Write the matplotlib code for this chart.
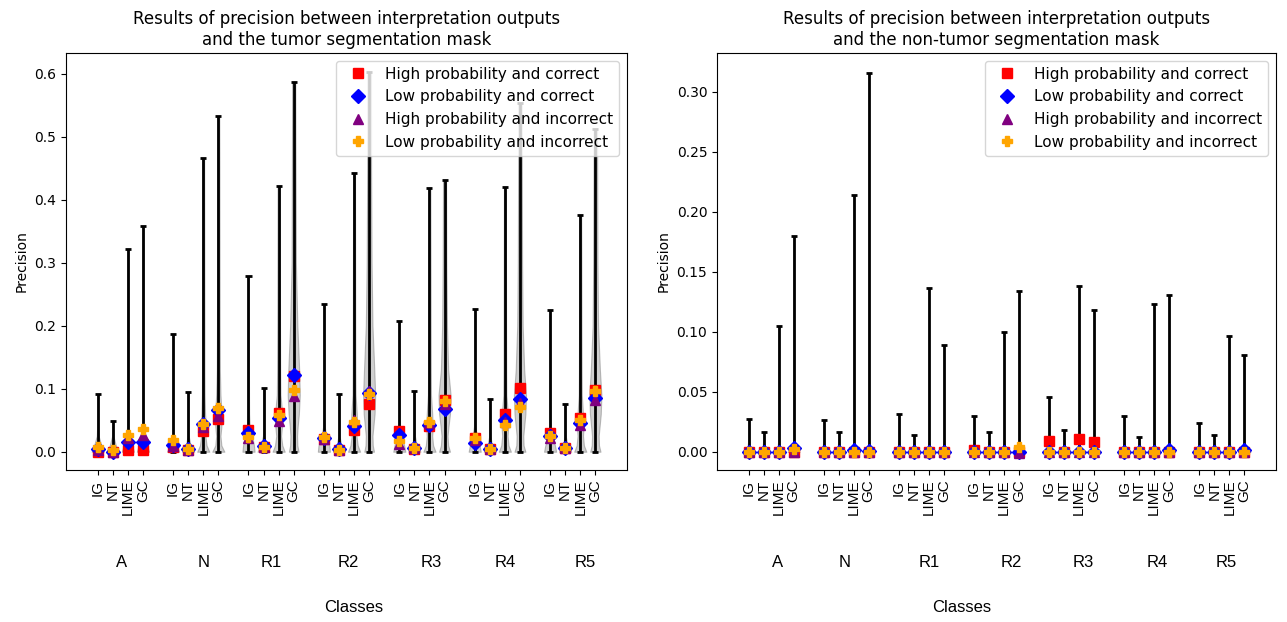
import numpy as np
import matplotlib.pyplot as plt
from matplotlib.transforms import blended_transform_factory

classes = ['A', 'N', 'R1', 'R2', 'R3', 'R4', 'R5']
methods = ['IG', 'NT', 'LIME', 'GC']
series_names = ['High probability and correct', 'Low probability and correct',
                'High probability and incorrect', 'Low probability and incorrect']

# tumor mask, order: class by class, IG / NT / LIME / GC
tumor_max = [0.091, 0.048, 0.322, 0.358,
             0.187, 0.095, 0.466, 0.533,
             0.279, 0.101, 0.4215, 0.587,
             0.234, 0.091, 0.443, 0.6025,
             0.207, 0.096, 0.419, 0.431,
             0.227, 0.084, 0.4205, 0.553,
             0.225, 0.075, 0.376, 0.513]
tumor_hpc = [0.0, 0.0, 0.003, 0.003,
             0.007, 0.003, 0.033, 0.052,
             0.034, 0.008, 0.062, 0.12,
             0.0195, 0.002, 0.034, 0.076,
             0.033, 0.004, 0.041, 0.082,
             0.022, 0.005, 0.06, 0.101,
             0.03, 0.006, 0.054, 0.098]
tumor_lpc = [0.004, 0.0, 0.016, 0.016,
             0.010, 0.004, 0.044, 0.066,
             0.029, 0.009, 0.053, 0.122,
             0.022, 0.004, 0.041, 0.093,
             0.026, 0.006, 0.043, 0.068,
             0.014, 0.005, 0.05, 0.083,
             0.025, 0.006, 0.046, 0.085]
tumor_hpi = [0.002, 0.0, 0.022, 0.027,
             0.009, 0.003, 0.04, 0.056,
             0.021, 0.007, 0.049, 0.088,
             0.0195, 0.003, 0.051, 0.096,
             0.013, 0.006, 0.046, 0.075,
             0.018, 0.005, 0.047, 0.078,
             0.022, 0.006, 0.042, 0.082]
tumor_lpi = [0.007, 0.002, 0.027, 0.036,
             0.018, 0.004, 0.044, 0.069,
             0.024, 0.007, 0.058, 0.098,
             0.023, 0.003, 0.047, 0.092,
             0.017, 0.006, 0.047, 0.08,
             0.021, 0.005, 0.042, 0.071,
             0.025, 0.006, 0.051, 0.096]

# relative violin widths read at these precision levels
tumor_levels = [0, 0.01, 0.025, 0.04, 0.06, 0.09, 0.13, 0.2, 0.3, 0.45, 0.6]
tumor_density = [
    [1.0, 0.6, 0.15, 0.08, 0.06, 0.05, 0.05, 0.05, 0.05, 0.05, 0.05],
    [1.0, 0.5, 0.1, 0.06, 0.05, 0.05, 0.05, 0.05, 0.05, 0.05, 0.05],
    [1.0, 0.7, 0.25, 0.12, 0.1, 0.1, 0.1, 0.1, 0.1, 0.08, 0.08],
    [1.0, 0.7, 0.3, 0.15, 0.12, 0.12, 0.1, 0.1, 0.1, 0.08, 0.08],
    [1.0, 0.5, 0.12, 0.06, 0.05, 0.05, 0.05, 0.05, 0.05, 0.05, 0.05],
    [1.0, 0.4, 0.08, 0.05, 0.05, 0.05, 0.05, 0.05, 0.05, 0.05, 0.05],
    [1.0, 0.55, 0.35, 0.45, 0.3, 0.22, 0.2, 0.2, 0.18, 0.15, 0.15],
    [1.0, 0.5, 0.35, 0.5, 0.55, 0.35, 0.25, 0.22, 0.2, 0.18, 0.15],
    [1.0, 0.9, 0.6, 0.2, 0.1, 0.08, 0.07, 0.07, 0.06, 0.06, 0.06],
    [1.0, 0.5, 0.1, 0.05, 0.05, 0.05, 0.05, 0.05, 0.05, 0.05, 0.05],
    [1.0, 0.6, 0.4, 0.55, 0.6, 0.3, 0.25, 0.22, 0.2, 0.18, 0.15],
    [0.8, 0.6, 0.55, 0.65, 0.85, 1.0, 0.9, 0.6, 0.35, 0.3, 0.25],
    [1.0, 0.9, 0.4, 0.12, 0.08, 0.07, 0.06, 0.06, 0.06, 0.06, 0.06],
    [1.0, 0.4, 0.08, 0.05, 0.05, 0.05, 0.05, 0.05, 0.05, 0.05, 0.05],
    [1.0, 0.6, 0.4, 0.5, 0.45, 0.25, 0.22, 0.2, 0.18, 0.15, 0.15],
    [0.8, 0.6, 0.55, 0.7, 0.9, 1.0, 0.85, 0.55, 0.4, 0.32, 0.3],
    [1.0, 0.8, 0.35, 0.12, 0.08, 0.07, 0.06, 0.06, 0.06, 0.06, 0.06],
    [1.0, 0.4, 0.08, 0.05, 0.05, 0.05, 0.05, 0.05, 0.05, 0.05, 0.05],
    [1.0, 0.6, 0.45, 0.55, 0.45, 0.25, 0.22, 0.2, 0.18, 0.15, 0.15],
    [0.9, 0.6, 0.5, 0.65, 0.9, 1.0, 0.6, 0.4, 0.3, 0.25, 0.25],
    [1.0, 0.8, 0.35, 0.12, 0.08, 0.07, 0.06, 0.06, 0.06, 0.06, 0.06],
    [1.0, 0.4, 0.08, 0.05, 0.05, 0.05, 0.05, 0.05, 0.05, 0.05, 0.05],
    [1.0, 0.6, 0.45, 0.55, 0.5, 0.25, 0.22, 0.2, 0.18, 0.15, 0.15],
    [0.9, 0.6, 0.55, 0.7, 0.9, 1.0, 0.7, 0.45, 0.35, 0.3, 0.28],
    [1.0, 0.8, 0.35, 0.12, 0.08, 0.07, 0.06, 0.06, 0.06, 0.06, 0.06],
    [1.0, 0.4, 0.08, 0.05, 0.05, 0.05, 0.05, 0.05, 0.05, 0.05, 0.05],
    [1.0, 0.6, 0.45, 0.55, 0.45, 0.25, 0.22, 0.2, 0.18, 0.15, 0.15],
    [0.85, 0.6, 0.55, 0.7, 0.9, 1.0, 0.75, 0.45, 0.35, 0.3, 0.28],
]

# non-tumor mask
nontumor_max = [0.0276, 0.0163, 0.1048, 0.1798,
                0.0268, 0.0163, 0.2143, 0.3156,
                0.0315, 0.0144, 0.1366, 0.0888,
                0.0296, 0.0163, 0.1001, 0.1341,
                0.0456, 0.0185, 0.1386, 0.118,
                0.0304, 0.0124, 0.1236, 0.1311,
                0.024, 0.0144, 0.097, 0.0805]
nontumor_hpc = [0, 0, 0, 0,
                0, 0, 0, 0,
                0, 0, 0, 0,
                0.002, 0, 0, 0,
                0.0089, 0, 0.0108, 0.008,
                0, 0, 0, 0,
                0, 0, 0, 0]
nontumor_lpc = [0, 0, 0, 0.0033,
                0, 0, 0.002, 0.001,
                0, 0, 0, 0,
                0, 0, 0, 0,
                0, 0, 0, 0,
                0, 0, 0, 0.002,
                0, 0, 0, 0.002]
nontumor_hpi = [0, 0, 0, 0,
                0, 0, 0, 0,
                0, 0, 0, 0,
                0, 0, 0, -0.0005,
                0, 0, 0, 0,
                0, 0, 0, 0,
                0, 0, 0, 0]
nontumor_lpi = [0, 0, 0, 0.0025,
                0, 0, 0, 0,
                0, 0, 0, 0,
                0, 0, 0, 0.004,
                0, 0, 0, 0,
                0, 0, 0, 0,
                0, 0, 0, 0]
nontumor_levels = [0, 0.004, 0.01, 0.03, 0.1, 0.32]
nontumor_density = [1.0, 0.2, 0.02, 0.01, 0.01, 0.01]

# layout
positions = [g * 5 + m for g in range(len(classes)) for m in range(len(methods))]
tumor_label_off = [1.55, 2.0, 1.5, 1.6, 2.1, 2.0, 2.3]
nontumor_label_off = [1.9, 1.4, 2.0, 2.5, 2.3, 2.2, 1.8]
styles = [('s', 'red'), ('D', 'blue'), ('^', 'purple'), ('P', 'orange')]
ARIAL = 'Liberation Sans'


def make_stats(maxima, profiles, levels):
    stats = []
    for mx, prof in zip(maxima, profiles):
        coords = [l for l in levels if l < mx] + [mx]
        vals = [prof[min(k, len(prof) - 1)] for k in range(len(coords))]
        stats.append(dict(coords=coords, vals=vals, mean=0.0, median=0.0,
                          min=0.0, max=mx))
    return stats


def draw_panel(ax, stats, series, title, label_off, classes_x):
    parts = ax.violin(stats, positions=positions, widths=0.8, showextrema=True)
    for body in parts['bodies']:
        body.set_facecolor('#a0a0a0')
        body.set_edgecolor('#808080')
        body.set_alpha(0.5)
        body.set_linewidth(0.8)
    for key in ('cmaxes', 'cmins', 'cbars'):
        parts[key].set_color('black')
        parts[key].set_linewidth(2)

    for vals, name, (mk, col) in zip(series, series_names, styles):
        ax.plot(positions, vals, ls='none', marker=mk, color=col, ms=7, label=name)

    ax.set_xlim(-2.1, 35.1)
    ax.set_xticks(positions)
    ax.set_xticklabels(methods * len(classes), rotation=90, fontsize=11, family=ARIAL)
    ax.set_ylabel('Precision')
    ax.set_title(title, fontsize=12)
    ax.legend(loc='upper right', fontsize=11)

    trans = blended_transform_factory(ax.transData, ax.transAxes)
    for g, (cls, off) in enumerate(zip(classes, label_off)):
        ax.text(g * 5 + off, -0.223, cls, transform=trans, ha='center', va='center',
                fontsize=12, family=ARIAL)
    ax.text(classes_x, -0.33, 'Classes', transform=ax.transAxes, ha='center',
            va='center', fontsize=12, family=ARIAL)


fig = plt.figure(figsize=(12.87, 6.22), dpi=100)
ax1 = fig.add_axes([0.0513, 0.2444, 0.4359, 0.6704])
ax2 = fig.add_axes([0.5571, 0.2444, 0.4343, 0.6704])

draw_panel(ax1, make_stats(tumor_max, tumor_density, tumor_levels),
           [tumor_hpc, tumor_lpc, tumor_hpi, tumor_lpi],
           'Results of precision between interpretation outputs\nand the tumor segmentation mask',
           tumor_label_off, 0.512)
ax1.set_ylim(-0.029, 0.633)

draw_panel(ax2, make_stats(nontumor_max, [nontumor_density] * len(nontumor_max), nontumor_levels),
           [nontumor_hpc, nontumor_lpc, nontumor_hpi, nontumor_lpi],
           'Results of precision between interpretation outputs\nand the non-tumor segmentation mask',
           nontumor_label_off, 0.438)
ax2.set_ylim(-0.015, 0.3325)

fig.savefig('out.png', dpi=100)
